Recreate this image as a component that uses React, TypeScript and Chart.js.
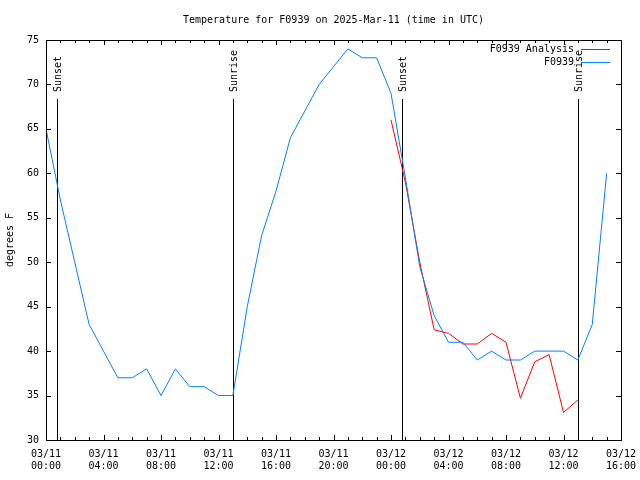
import React, { useEffect, useRef } from "react";
import { Chart, registerables } from "chart.js";

Chart.register(...registerables);

const TITLE = "Temperature for F0939 on 2025-Mar-11 (time in UTC)";
const Y_LABEL = "degrees F";
const FONT = "DejaVu Sans Mono";

const xTickHours = [0, 4, 8, 12, 16, 20, 24, 28, 32, 36, 40];
const xTickLabels = [
  ["03/11", "00:00"],
  ["03/11", "04:00"],
  ["03/11", "08:00"],
  ["03/11", "12:00"],
  ["03/11", "16:00"],
  ["03/11", "20:00"],
  ["03/12", "00:00"],
  ["03/12", "04:00"],
  ["03/12", "08:00"],
  ["03/12", "12:00"],
  ["03/12", "16:00"],
];
const yTicks = [30, 35, 40, 45, 50, 55, 60, 65, 70, 75];

const observedHours = [
  0, 1, 2, 3, 4, 5, 6, 7, 8, 9, 10, 11, 12, 13, 14, 15, 16, 17, 18, 19,
  20, 21, 22, 23, 24, 25, 26, 27, 28, 29, 30, 31, 32, 33, 34, 35, 36, 37, 38, 39,
];
const observedTemps = [
  65, 57, 50, 43, 40, 37, 37, 38, 35, 38, 36, 36, 35, 35, 45, 53, 58, 64, 67, 70,
  72, 74, 73, 73, 69, 59.5, 49.5, 44, 41, 41, 39, 40, 39, 39, 40, 40, 40, 39, 43, 60,
];

const analysisHours = [24, 25, 26, 27, 28, 29, 30, 31, 32, 33, 34, 35, 36, 37];
const analysisTemps = [66, 59, 50, 42.4, 42, 40.8, 40.8, 42, 41, 34.7, 38.8, 39.6, 33.1, 34.5];

const eventHours = [0.78, 12.98, 24.78, 36.98];
const eventLabels = ["Sunset", "Sunrise", "Sunset", "Sunrise"];

const legendLabels = ["F0939 Analysis", "F0939"];
const RED = "#ff0000";
const BLUE = "#0080ff";

const decorPlugin = {
  id: "decor",
  beforeDatasetsDraw(chart: any) {
    const ctx = chart.ctx;
    const { top, bottom } = chart.chartArea;
    const xs = chart.scales.x;
    ctx.save();
    ctx.strokeStyle = "#000";
    ctx.lineWidth = 1;
    ctx.fillStyle = "#000";
    ctx.font = `10px "${FONT}"`;
    eventHours.forEach((h, i) => {
      const px = Math.round(xs.getPixelForValue(h)) + 0.5;
      ctx.beginPath();
      ctx.moveTo(px, top + 59);
      ctx.lineTo(px, bottom);
      ctx.stroke();
      ctx.save();
      ctx.translate(px + 1, top + 52);
      ctx.rotate(-Math.PI / 2);
      ctx.textAlign = "left";
      ctx.textBaseline = "middle";
      ctx.fillText(eventLabels[i], 0, 0);
      ctx.restore();
    });
    ctx.restore();
  },
  afterDraw(chart: any) {
    const ctx = chart.ctx;
    const { left, right, top, bottom } = chart.chartArea;
    const xs = chart.scales.x;
    const ys = chart.scales.y;
    ctx.save();
    ctx.strokeStyle = "#000";
    ctx.lineWidth = 1;
    // border
    ctx.strokeRect(left + 0.5, top + 0.5, right - left, bottom - top);
    // x ticks (hourly minor, 4-hourly major), mirrored on top
    ctx.beginPath();
    for (let h = 0; h <= 40; h++) {
      const px = Math.round(xs.getPixelForValue(h)) + 0.5;
      const len = h % 4 === 0 ? 5 : 3;
      ctx.moveTo(px, bottom);
      ctx.lineTo(px, bottom - len);
      ctx.moveTo(px, top);
      ctx.lineTo(px, top + len);
    }
    // y ticks mirrored on right
    yTicks.forEach((v) => {
      const py = Math.round(ys.getPixelForValue(v)) + 0.5;
      ctx.moveTo(left, py);
      ctx.lineTo(left + 5, py);
      ctx.moveTo(right, py);
      ctx.lineTo(right - 5, py);
    });
    ctx.stroke();

    ctx.fillStyle = "#000";
    ctx.font = `10px "${FONT}"`;
    // title
    ctx.textAlign = "center";
    ctx.textBaseline = "middle";
    ctx.fillText(TITLE, (left + right) / 2, 20);
    // y label
    ctx.save();
    ctx.translate(10, (top + bottom) / 2);
    ctx.rotate(-Math.PI / 2);
    ctx.textAlign = "center";
    ctx.textBaseline = "middle";
    ctx.fillText(Y_LABEL, 0, 0);
    ctx.restore();
    // legend
    const colors = [RED, BLUE];
    legendLabels.forEach((lab, i) => {
      const ly = top + 9 + i * 13;
      ctx.fillStyle = "#000";
      ctx.textAlign = "right";
      ctx.textBaseline = "middle";
      ctx.fillText(lab, right - 47, ly);
      ctx.strokeStyle = colors[i];
      ctx.beginPath();
      ctx.moveTo(right - 40, Math.round(ly) + 0.5);
      ctx.lineTo(right - 11, Math.round(ly) + 0.5);
      ctx.stroke();
    });
    ctx.restore();
  },
};

export default function App() {
  const ref = useRef<HTMLCanvasElement | null>(null);
  useEffect(() => {
    if (!ref.current) return;
    const chart = new Chart(ref.current, {
      type: "line",
      data: {
        datasets: [
          {
            label: legendLabels[0],
            data: analysisTemps.map((v, i) => ({ x: analysisHours[i], y: v })),
            borderColor: RED,
            backgroundColor: RED,
            borderWidth: 1,
            pointRadius: 0,
            tension: 0,
            fill: false,
            order: 2,
          },
          {
            label: legendLabels[1],
            data: observedTemps.map((v, i) => ({ x: observedHours[i], y: v })),
            borderColor: BLUE,
            backgroundColor: BLUE,
            borderWidth: 1,
            pointRadius: 0,
            tension: 0,
            fill: false,
            order: 1,
          },
        ],
      },
      options: {
        animation: false,
        responsive: false,
        devicePixelRatio: 1,
        layout: { padding: { top: 40, right: 19, left: 0, bottom: 0 } },
        plugins: {
          legend: { display: false },
          title: { display: false },
          tooltip: { enabled: false },
        },
        scales: {
          x: {
            type: "linear",
            min: 0,
            max: 40,
            grid: { display: false, drawTicks: false },
            border: { display: false },
            afterBuildTicks: (s: any) => {
              s.ticks = xTickHours.map((v) => ({ value: v }));
            },
            afterFit: (s: any) => {
              s.height = 40;
              s.paddingLeft = 0;
              s.paddingRight = 0;
            },
            ticks: {
              autoSkip: false,
              maxRotation: 0,
              padding: 8,
              color: "#000",
              font: { family: FONT, size: 10, lineHeight: 1.2 },
              callback: (v: any) => {
                const idx = xTickHours.indexOf(Number(v));
                return idx >= 0 ? xTickLabels[idx] : "";
              },
            },
          },
          y: {
            min: 30,
            max: 75,
            grid: { display: false, drawTicks: false },
            border: { display: false },
            afterBuildTicks: (s: any) => {
              s.ticks = yTicks.map((v) => ({ value: v }));
            },
            afterFit: (s: any) => {
              s.width = 46;
              s.paddingTop = 0;
              s.paddingBottom = 0;
            },
            ticks: {
              padding: 7,
              color: "#000",
              font: { family: FONT, size: 10 },
            },
          },
        },
      },
      plugins: [decorPlugin],
    } as any);
    return () => chart.destroy();
  }, []);
  return (
    <div style={{ position: "absolute", left: 0, top: 0, width: 640, height: 480, background: "#fff" }}>
      <canvas ref={ref} width={640} height={480} style={{ display: "block" }} />
    </div>
  );
}
